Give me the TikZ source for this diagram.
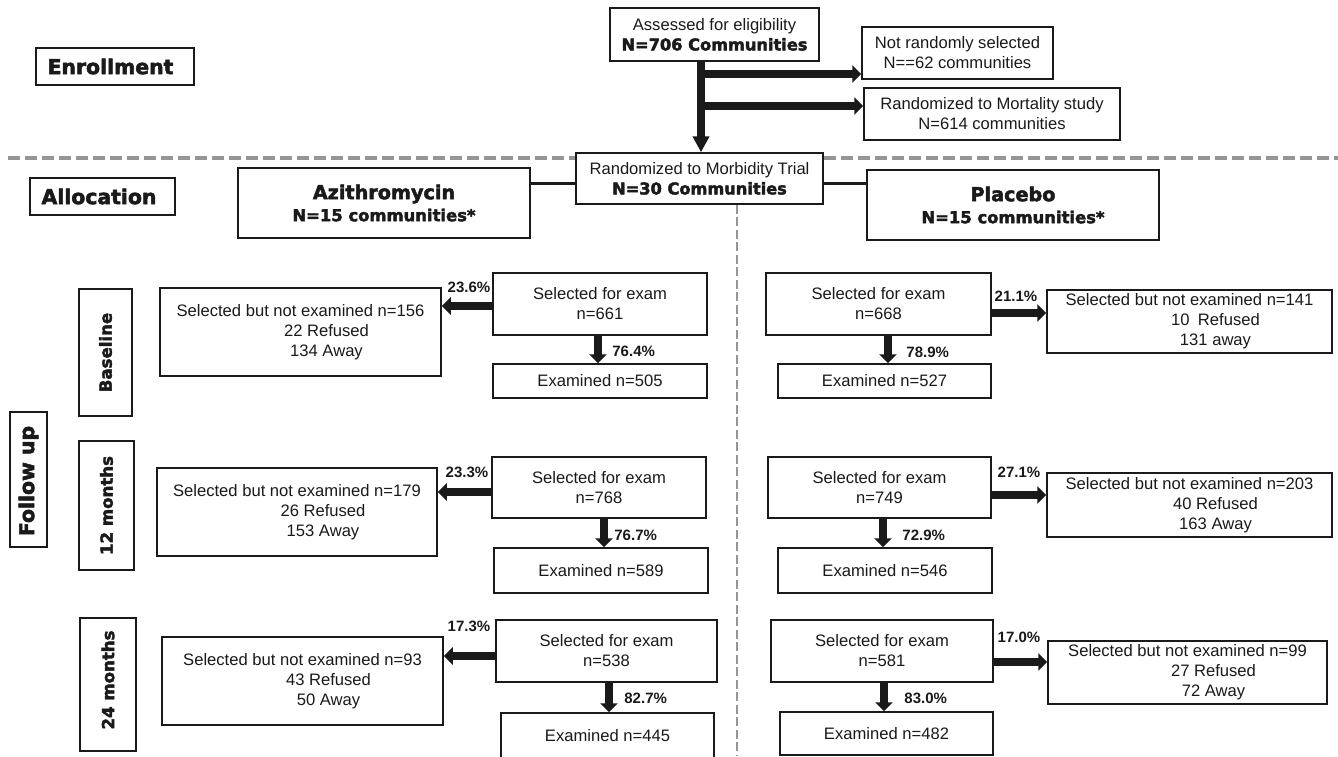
\documentclass[tikz,border=0pt]{standalone}
\usepackage{fontspec}
\setmainfont{Liberation Sans}
\newfontfamily\hvfont{DejaVu Sans}[BoldFeatures={FakeBold=2.5}]
\usetikzlibrary{arrows.meta}
\definecolor{ink}{HTML}{1A1A1A}
\definecolor{dashgray}{HTML}{959595}
\newcommand{\hv}{\hvfont\bfseries}
\newcommand{\mybox}[7][box]{\node[#1, minimum width={(#5-#3)*0.5pt}, minimum height={(#6-#4)*0.5pt}] (#2) at ({(#3+#5)/2},{(#4+#6)/2}) {#7};}
\begin{document}
\begin{tikzpicture}[x=0.5pt,y=-0.5pt,
  box/.style={draw=ink, line width=0.75pt, fill=white, inner sep=0pt, align=center, text=ink, font=\fontsize{8.3}{10}\selectfont},
  bigbox/.style={box, font=\hv\fontsize{10.2}{12}\selectfont},
  fat/.style={draw=ink, line width=4pt, -{Triangle[length=4.5pt,width=8.5pt]}},
  fatv/.style={draw=ink, line width=4pt, -{Triangle[length=8pt,width=8pt]}},
  pct/.style={font=\bfseries\fontsize{7.5}{9}\selectfont, text=ink, inner sep=0pt},
  vlab/.style={rotate=90, font=\hv\fontsize{8.3}{10}\selectfont, inner sep=0pt, text=ink},
  conn/.style={draw=ink, line width=1.5pt},
  hdash/.style={draw=dashgray, line width=1.75pt, dash pattern=on 6pt off 2.5pt},
  vdash/.style={draw=dashgray, line width=1.1pt, dash pattern=on 4.5pt off 1.75pt}]
\useasboundingbox (0,0) rectangle (1338,756);
\clip (0,0) rectangle (1338,756);
\fill[white] (0,0) rectangle (1338,756);

% separator
\coordinate (dl) at (8,158);
\coordinate (dr) at (1338,158);
\draw[hdash] (dl) -- (dr);

% phase labels
\mybox[bigbox]{enr}{36}{48}{194}{85}{Enrollment\hspace*{4.5pt}}
\mybox[bigbox]{alc}{30}{178}{175}{215}{Allocation\hspace*{3.5pt}}

% enrollment
\mybox{as}{610}{8}{819}{61}{Assessed for eligibility\\{\hv\fontsize{8.1}{10}\selectfont N=706 Communities}}
\mybox{nr}{862}{27}{1053}{79}{Not randomly selected\\N==62 communities}
\mybox{rm}{864}{88}{1120}{140}{Randomized to Mortality study\\N=614 communities}
\mybox{mb}{576}{153}{823}{204}{Randomized to Morbidity Trial\\{\hv\fontsize{8.1}{10}\selectfont N=30 Communities}}

\coordinate (j1) at (701,74);
\coordinate (j2) at (701,106);
\draw[fatv] (as.south -| 701,0) -- (mb.north -| 701,0);
\draw[fat] (j1) -- (nr.west |- j1);
\draw[fat] (j2) -- (rm.west |- j2);

% allocation
\mybox{az}{238}{168}{530}{238}{{\hv\fontsize{9.6}{11}\selectfont Azithromycin}\\[1pt]{\hv\fontsize{8.2}{10}\selectfont N=15 communities*}}
\mybox{pl}{867}{170}{1159}{240}{{\hv\fontsize{9.6}{11}\selectfont Placebo}\\[1pt]{\hv\fontsize{8.2}{10}\selectfont N=15 communities*}}
\draw[conn] (az.east |- 0,183) -- (mb.west |- 0,183);
\draw[conn] (mb.east |- 0,183) -- (pl.west |- 0,183);
\draw[vdash] (mb.south -| 737,0) -- (737,756);

% follow-up labels
\mybox{fu}{10}{412}{47}{547}{}
\node[vlab, font=\hv\fontsize{10.2}{12}\selectfont] (fut) at (28.5,481) {Follow up};
\mybox{bl}{79}{289}{132}{416}{}
\node[vlab] (blt) at (bl.center) {Baseline};
\mybox{mt}{79}{441}{134}{570}{}
\node[vlab] (mtt) at (mt.center) {12 months};
\mybox{mf}{80}{618}{136}{751}{}
\node[vlab] (mft) at (108,680) {24 months};

% baseline
\mybox{s1}{493}{273}{707}{335}{Selected for exam\\n=661}
\mybox{e1}{493}{364}{707}{398}{Examined n=505}
\mybox{n1}{160}{288}{441}{376}{Selected but not examined n=156\\\hspace*{26pt}22 Refused\\\hspace*{26pt}134 Away}
\draw[fat] (s1.west |- 0,306) -- (n1.east |- 0,306);
\node[pct] (p1) at (469,287) {23.6\%};
\draw[fat] (s1.south -| 598,0) -- (e1.north -| 598,0);
\node[pct, anchor=west] (q1) at (612,351) {76.4\%};

\mybox{s2}{766}{273}{991}{335}{Selected for exam\\n=668}
\mybox{e2}{778}{364}{991}{398}{Examined n=527}
\mybox{n2}{1047}{290}{1332}{353}{Selected but not examined n=141\\\hspace*{26pt}10\hspace{0.5em}Refused\\\hspace*{26pt}131 away}
\draw[fat] (s2.east |- 0,313) -- (n2.west |- 0,313);
\node[pct] (p2) at (1016,296) {21.1\%};
\draw[fat] (s2.south -| 888,0) -- (e2.north -| 888,0);
\node[pct, anchor=west] (q2) at (906,352) {78.9\%};

% 12 months
\mybox{s3}{492}{457}{706}{518}{Selected for exam\\n=768}
\mybox{e3}{494}{548}{708}{593}{Examined n=589}
\mybox{n3}{157}{468}{437}{556}{Selected but not examined n=179\\\hspace*{26pt}26 Refused\\\hspace*{26pt}153 Away}
\draw[fat] (s3.west |- 0,492) -- (n3.east |- 0,492);
\node[pct] (p3) at (467,472) {23.3\%};
\draw[fat] (s3.south -| 604,0) -- (e3.north -| 604,0);
\node[pct, anchor=west] (q3) at (614,535) {76.7\%};

\mybox{s4}{768}{457}{991}{518}{Selected for exam\\n=749}
\mybox{e4}{778}{548}{992}{593}{Examined n=546}
\mybox{n4}{1047}{473}{1332}{537}{Selected but not examined n=203\\\hspace*{26pt}40 Refused\\\hspace*{26pt}163 Away}
\draw[fat] (s4.east |- 0,495) -- (n4.west |- 0,495);
\node[pct] (p4) at (1019,472) {27.1\%};
\draw[fat] (s4.south -| 883,0) -- (e4.north -| 883,0);
\node[pct, anchor=west] (q4) at (902,535) {72.9\%};

% 24 months
\mybox{s5}{496}{620}{717}{682}{Selected for exam\\n=538}
\mybox{e5}{501}{713}{714}{759}{Examined n=445}
\mybox{n5}{162}{637}{443}{725}{Selected but not examined n=93\\\hspace*{26pt}43 Refused\\\hspace*{26pt}50 Away}
\draw[fat] (s5.west |- 0,656) -- (n5.east |- 0,656);
\node[pct] (p5) at (469,626) {17.3\%};
\draw[fat] (s5.south -| 609,0) -- (e5.north -| 609,0);
\node[pct, anchor=west] (q5) at (624,698) {82.7\%};

\mybox{s6}{771}{620}{993}{682}{Selected for exam\\n=581}
\mybox{e6}{780}{712}{993}{755}{Examined n=482}
\mybox{n6}{1048}{641}{1327}{704}{Selected but not examined n=99\\\hspace*{26pt}27 Refused\\\hspace*{26pt}72 Away}
\draw[fat] (s6.east |- 0,662) -- (n6.west |- 0,662);
\node[pct] (p6) at (1019,637) {17.0\%};
\draw[fat] (s6.south -| 884,0) -- (e6.north -| 884,0);
\node[pct, anchor=west] (q6) at (904,698) {83.0\%};
\end{tikzpicture}
\end{document}
